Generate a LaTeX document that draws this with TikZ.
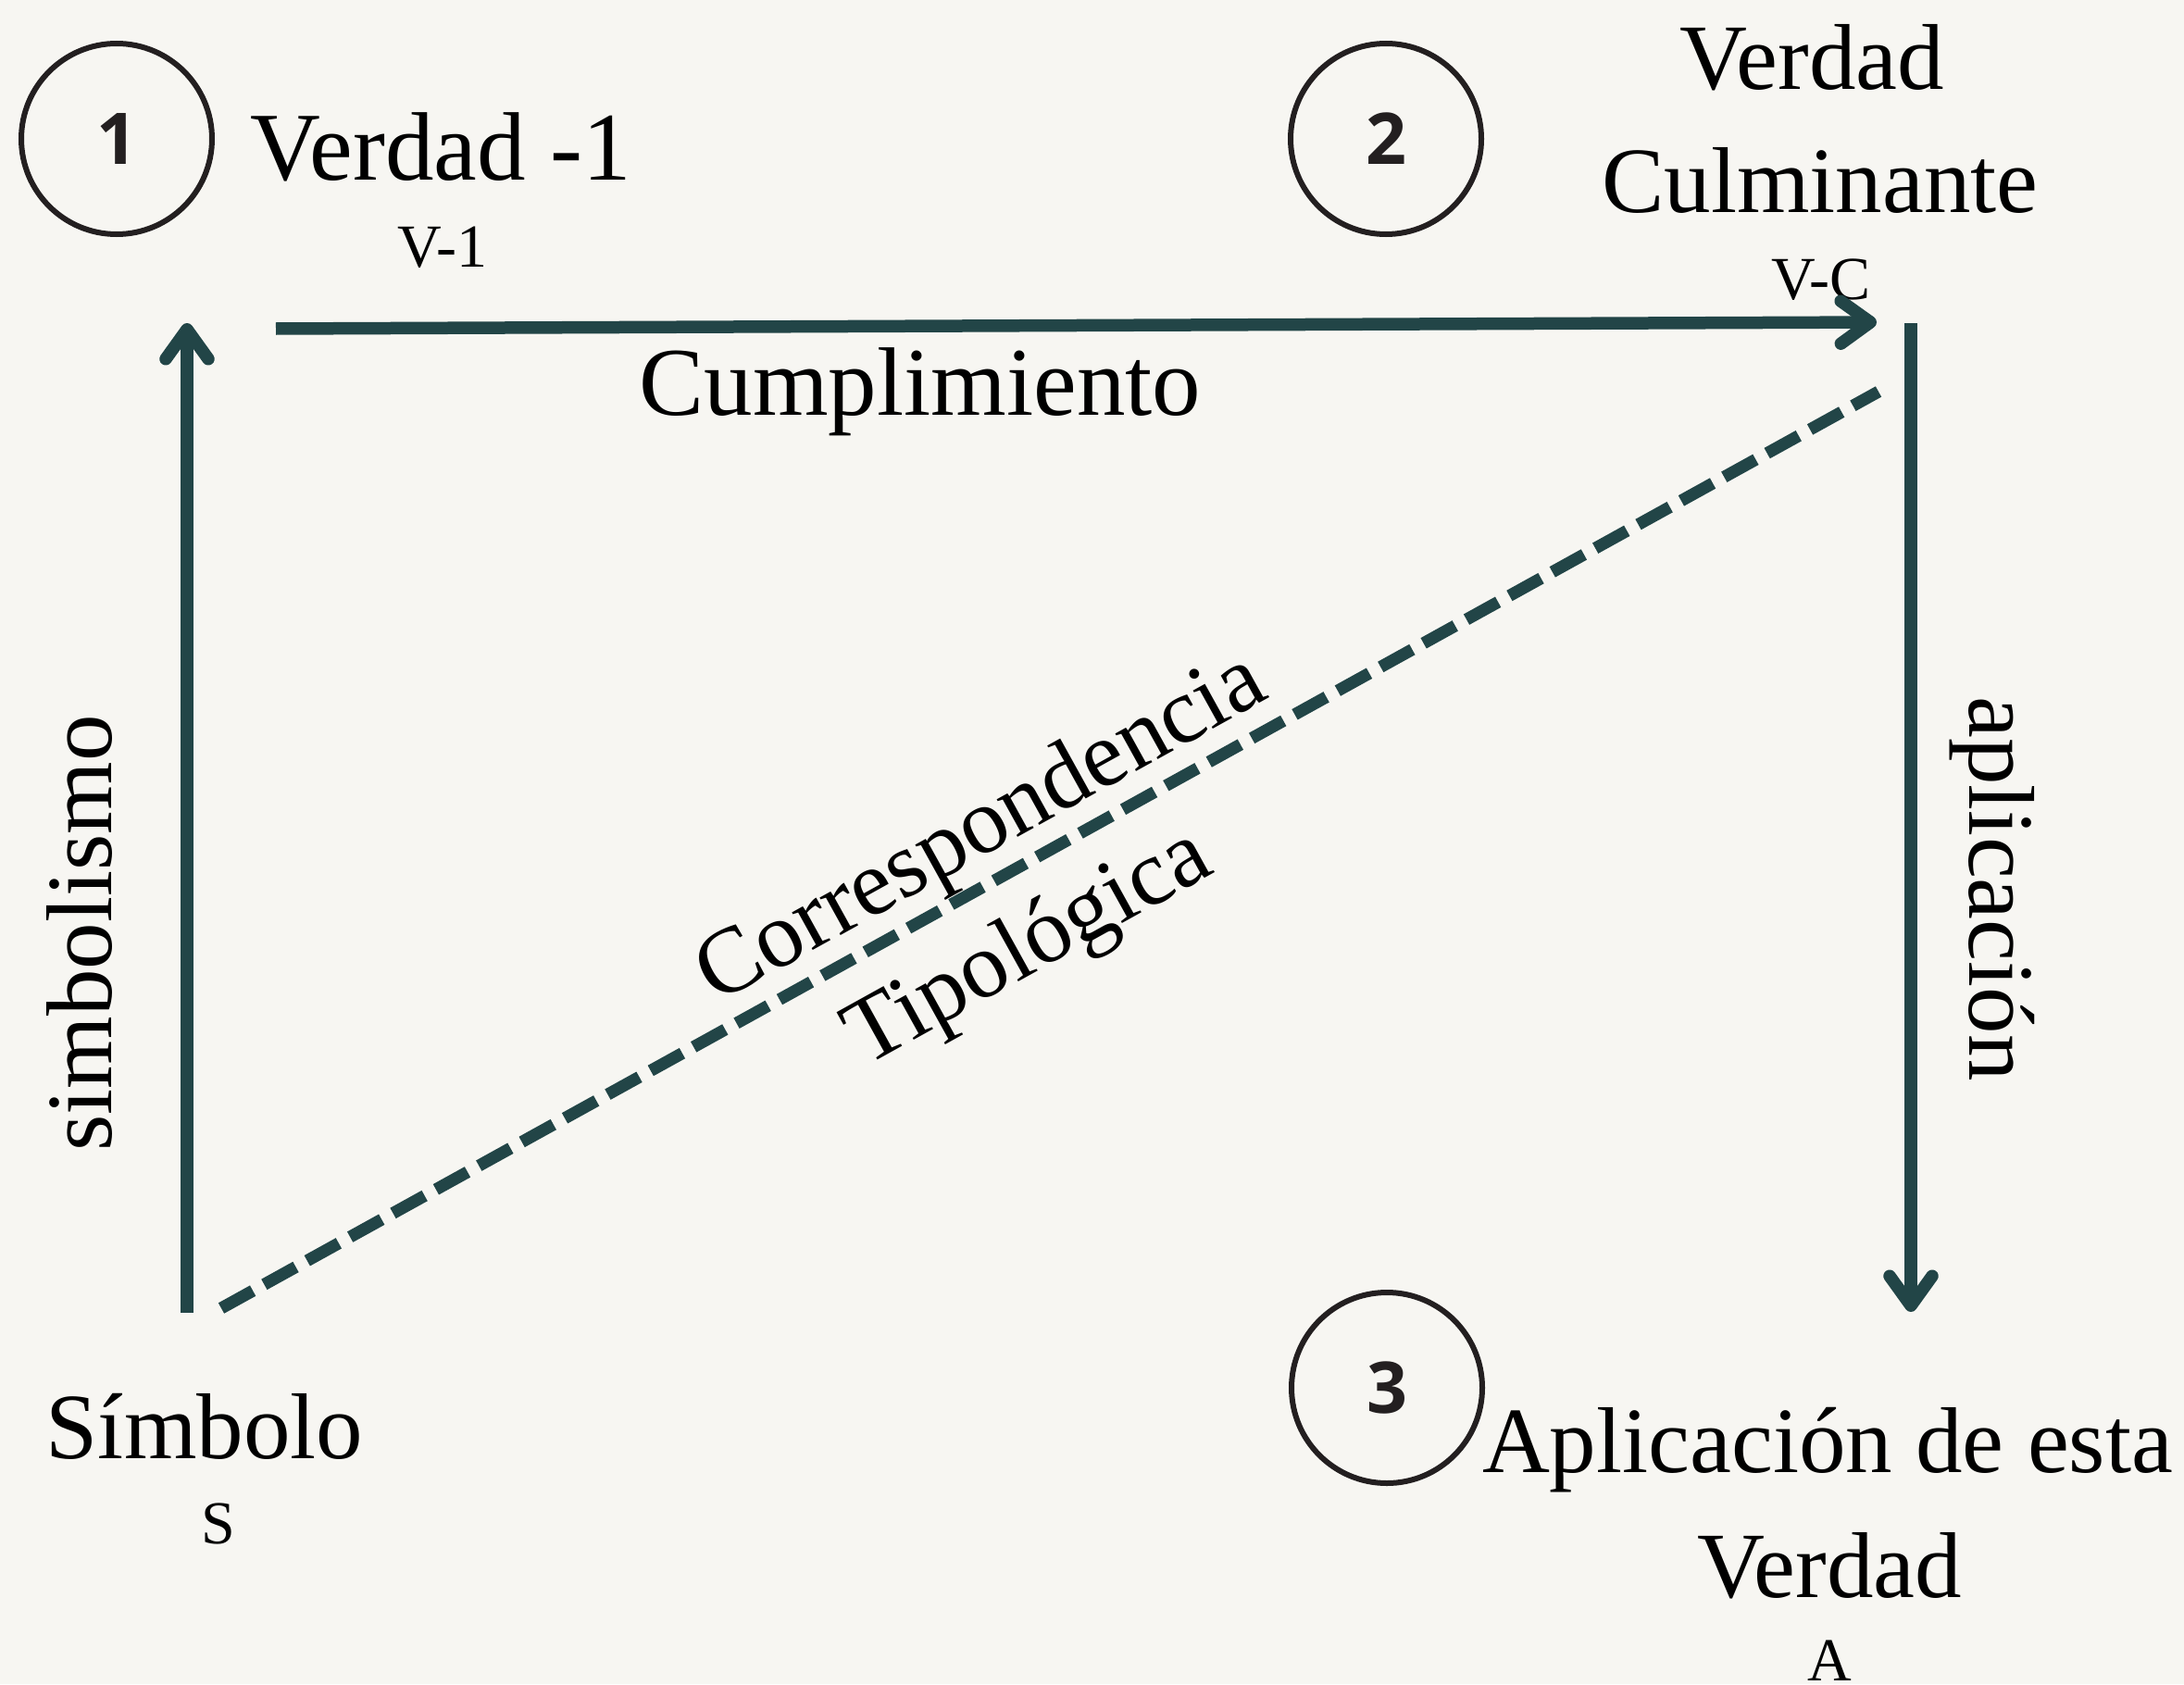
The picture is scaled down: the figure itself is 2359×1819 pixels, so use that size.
\documentclass[tikz,border=0pt]{standalone}
\usepackage{fontspec}
\setmainfont{Liberation Serif}
\newfontfamily\numfont{Open Sans}
\usetikzlibrary{arrows.meta}
\definecolor{bgcol}{HTML}{F7F6F2}
\definecolor{linecol}{HTML}{224547}
\definecolor{ink}{HTML}{231F20}
\begin{document}
\begin{tikzpicture}[x=0.5pt,y=-0.5pt,
  big/.style={font=\fontsize{50.5pt}{60pt}\selectfont, anchor=base, inner sep=0pt},
  bigger/.style={font=\fontsize{52.5pt}{62pt}\selectfont, anchor=base, inner sep=0pt},
  small/.style={font=\fontsize{33pt}{40pt}\selectfont, anchor=base, inner sep=0pt},
  num/.style={circle, draw=ink, line width=3pt, minimum size=103pt, inner sep=0pt,
    font=\numfont\bfseries\fontsize{38.5pt}{46pt}\selectfont, text=ink},
  conn/.style={draw=linecol, line width=6.75pt},
  tipped/.style={-{Straight Barb[length=16pt,width=23pt,round]}},
  dashline/.style={draw=linecol, line width=6.5pt, dash pattern=on 19.5pt off 7pt}
]
\fill[bgcol] (0,0) rectangle (2359,1819);
\useasboundingbox (0,0) rectangle (2359,1819);

% numbered circles
\node[num] (c1) at (126,150) {1};
\node[num] (c2) at (1497,150) {2};
\node[num] (c3) at (1498,1499) {3};

% labels
\node[bigger] (v1) at (476,195) {Verdad -1};
\node[small] (v1s) at (478,288) {V-1};
\node[big] (vc1) at (1957,97) {Verdad};
\node[big] (vc2) at (1966,230) {Culminante};
\node[small] (vcs) at (1967,323) {V-C};
\node[bigger] (cum) at (994,448) {Cumplimiento};
\node[big] (sim) at (221,1575) {Símbolo};
\node[small] (sims) at (236,1667) {S};
\node[big] (ap1) at (1974,1590) {Aplicación de esta};
\node[big] (ap2) at (1976,1725) {Verdad};
\node[small] (aps) at (1976,1815) {A};
\node[big, rotate=90] (simb) at (120,1008) {simbolismo};
\node[big, rotate=-90] (apl) at (2127,960) {aplicación};
\node[big, rotate=29] (corr) at (1073,919) {Correspondencia};
\node[big, rotate=29] (tipo) at (1124,1047) {Tipológica};

% connector end points
\coordinate (sbot) at (202,1418);
\coordinate (stop) at (202,349);
\coordinate (hl) at (298,355);
\coordinate (hr) at (2027,348);
\coordinate (rtop) at (2064,349);
\coordinate (rbot) at (2064,1417);
\coordinate (dl) at (239,1413);
\coordinate (dr) at (2029,423);

\draw[conn, tipped] (sbot) -- (stop);
\draw[conn, tipped] (hl) -- (hr);
\draw[conn, tipped] (rtop) -- (rbot);
\draw[dashline] (dl) -- (dr);
\end{tikzpicture}
\end{document}
